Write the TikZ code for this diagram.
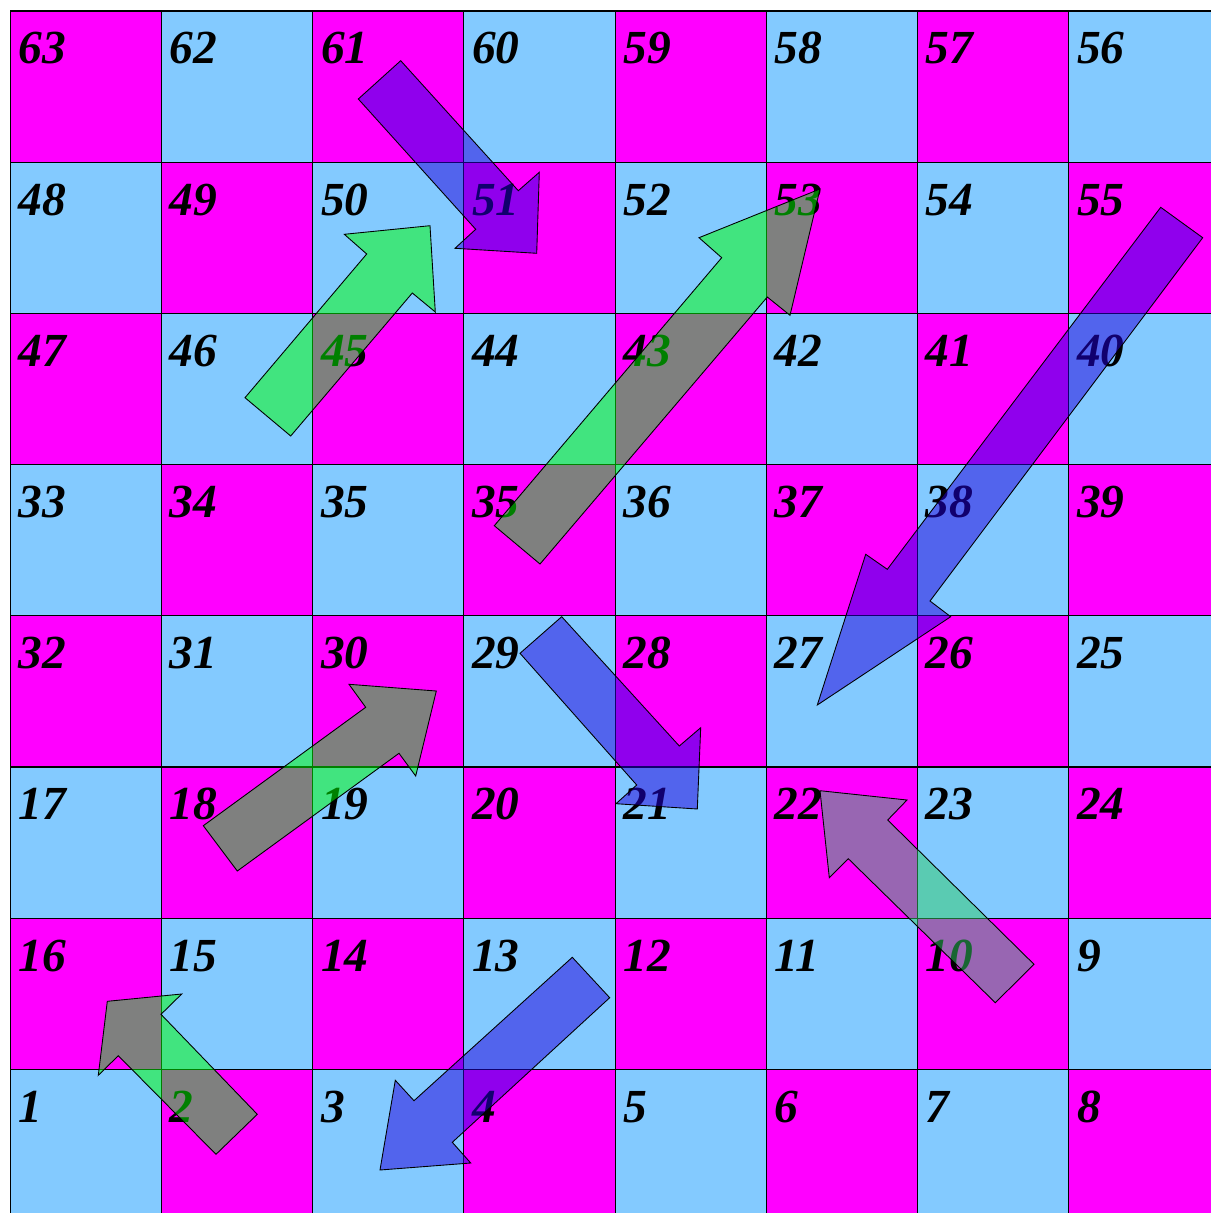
\documentclass[tikz,border=0pt]{standalone}
\usepackage{fontspec}
\setmainfont{Liberation Serif}
\usepackage{tikz}
\usepackage{xcolor}
\definecolor{boardpink}{RGB}{255,0,255}
\definecolor{boardblue}{RGB}{131,202,255}
\definecolor{snakeblue}{RGB}{35,0,220}
\definecolor{laddergreen}{RGB}{0,255,0}
\definecolor{ladderteal}{RGB}{51,204,102}

\begin{document}
\begin{tikzpicture}[x=0.02cm, y=-0.02cm]
  \tikzstyle{tile} = [rectangle, draw=black, line width=0.6pt, minimum size=3.024cm, inner sep=0pt, outer sep=0pt, anchor=north west]
  \tikzstyle{tile0} = [tile, fill=boardpink]
  \tikzstyle{tile1} = [tile, fill=boardblue]
  \tikzstyle{num} = [anchor=base west, inner sep=0pt, font=\fontsize{27}{32}\selectfont\bfseries\itshape]
  \tikzstyle{snake} = [draw=black, line width=0.5pt, fill=snakeblue, fill opacity=0.5]
  \tikzstyle{ladder} = [draw=black, line width=0.5pt, fill=laddergreen, fill opacity=0.5]
  \tikzstyle{tealladder} = [ladder, fill=ladderteal]
  \useasboundingbox (0,0) rectangle (1210,1213);
  \foreach \r/\row in {0/{63,62,61,60,59,58,57,56}, 1/{48,49,50,51,52,53,54,55},
      2/{47,46,45,44,43,42,41,40}, 3/{33,34,35,35,36,37,38,39},
      4/{32,31,30,29,28,27,26,25}, 5/{17,18,19,20,21,22,23,24},
      6/{16,15,14,13,12,11,10,9}, 7/{1,2,3,4,5,6,7,8}} {
    \foreach \n [count=\c from 0] in \row {
      \pgfmathtruncatemacro\shade{mod(\r+\c,2)}
      \node [tile\shade] (t\r\c) at ({10.3+151.2*\c}, {11+151.2*\r}) {};
      \node [num] (n\r\c) at ([xshift=0.16cm, yshift=-1.06cm]t\r\c.north west) {\n};
    }
  }
  \draw [snake] (400.7,60.7) -- (518.3,190.7) -- (539.3,172.3) -- (536.7,253.3) -- (455,248.3) -- (475.7,229.3) -- (358.3,99) -- cycle;
  \draw [ladder] (245,397.7) -- (366.7,254) -- (344.3,234.3) -- (430,225.7) -- (435.3,312) -- (412.3,293) -- (290.7,436) -- cycle;
  \draw [ladder] (494.3,525.7) -- (721.7,257.7) -- (699,237.7) -- (820,189) -- (790,315.3) -- (767.3,297) -- (540,564) -- cycle;
  \draw [snake] (1160.7,207.3) -- (887.3,569.3) -- (865.7,554.3) -- (817.3,705) -- (950.7,616.7) -- (930,601) -- (1202.7,237.7) -- cycle;
  \draw [ladder] (203.3,825.7) -- (365.7,707.3) -- (349,684.3) -- (436.3,691) -- (415.7,776) -- (399,753.3) -- (237.3,871) -- cycle;
  \draw [snake] (561.7,616.7) -- (679.3,746) -- (700.7,727.7) -- (697.3,809) -- (616,803.7) -- (636.7,785) -- (520,653.3) -- cycle;
  \draw [tealladder] (1034,964.3) -- (887.7,820) -- (907,800) -- (820,790.7) -- (829.3,877.7) -- (848.3,858.7) -- (995.3,1002.7) -- cycle;
  \draw [snake] (572.3,957.3) -- (414,1100.7) -- (395.3,1080.3) -- (380,1170) -- (470.7,1163) -- (452.3,1142.3) -- (609.7,997.7) -- cycle;
  \draw [ladder] (257.3,1114.3) -- (161,1014.3) -- (181.7,994) -- (107.3,1001.3) -- (98.3,1075.3) -- (118.3,1055.7) -- (216,1154.3) -- cycle;
\end{tikzpicture}
\end{document}
